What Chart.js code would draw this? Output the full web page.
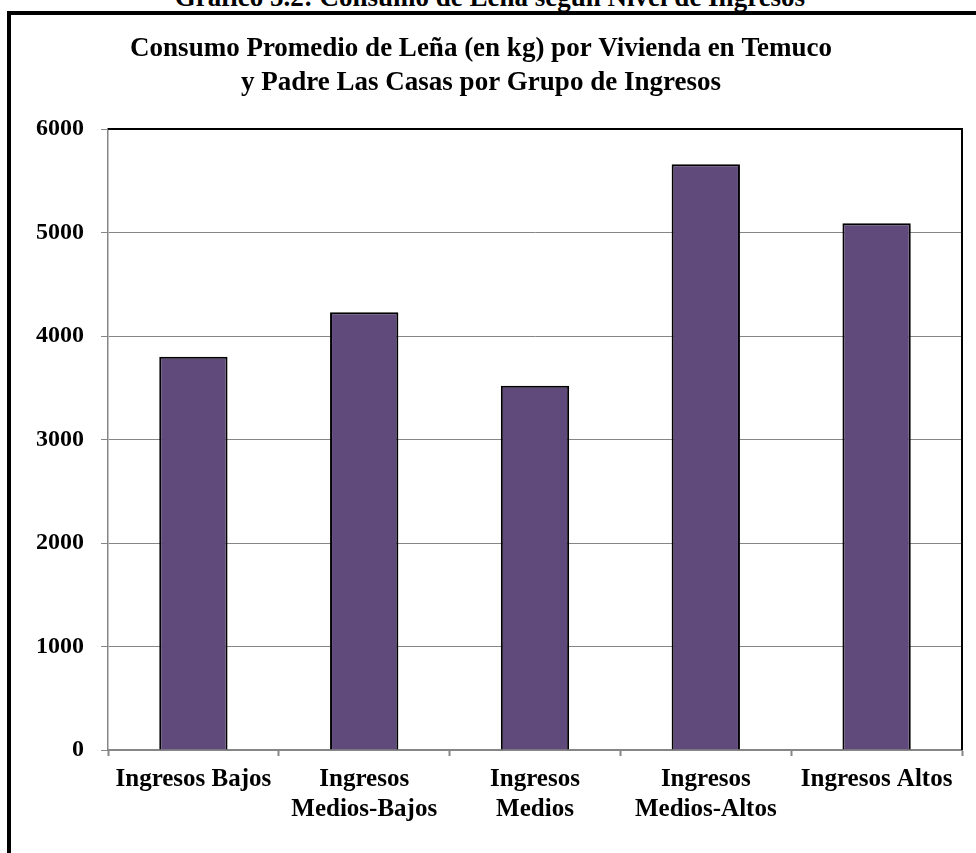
<!DOCTYPE html>
<html>
<head>
<meta charset="utf-8">
<script src="https://cdn.jsdelivr.net/npm/chart.js@4/dist/chart.umd.min.js"></script>
<style>
  body { margin: 0; background: #fff; width: 976px; height: 853px; overflow: hidden; position: relative; }
  #heading { position: absolute; left: 0; top: -16px; width: 980px; text-align: center;
             font: bold 27px "Liberation Serif", serif; line-height: 27px; color: #000; }
  #frame { position: absolute; left: 7px; top: 11px; width: 1000px; height: 900px;
           border-left: 4px solid #000; border-top: 4px solid #000; }
  #wrap { position: absolute; left: 0; top: 0; width: 976px; height: 853px; }
</style>
</head>
<body>
<div id="heading">Gráfico 5.2: Consumo de Leña según Nivel de Ingresos</div>
<div id="frame"></div>
<div id="wrap"><canvas id="chart"></canvas></div>
<script>
const grupos = [
    "Ingresos Bajos",
    ["Ingresos", "Medios-Bajos"],
    ["Ingresos", "Medios"],
    ["Ingresos", "Medios-Altos"],
    "Ingresos Altos"
];
const consumoKg = [3800, 4230, 3520, 5660, 5090];
const yTicks = [0, 1000, 2000, 3000, 4000, 5000, 6000];

const titulo = ["Consumo Promedio de Leña (en kg) por Vivienda en Temuco",
                "y Padre Las Casas por Grupo de Ingresos"];

const serif = "'Liberation Serif', 'Times New Roman', serif";
const gris = "#868686";

// black top and right edges of the plot area
const bordePlot = {
    id: "bordePlot",
    afterDraw(chart) {
        const { ctx, chartArea: a } = chart;
        ctx.save();
        ctx.strokeStyle = "#000";
        ctx.lineWidth = 2;
        ctx.beginPath();
        ctx.moveTo(a.left, a.top);
        ctx.lineTo(a.right, a.top);
        ctx.lineTo(a.right, a.bottom);
        ctx.stroke();
        ctx.restore();
    }
};

Chart.defaults.font.family = serif;
Chart.defaults.color = "#000";

new Chart(document.getElementById("chart"), {
    type: "bar",
    data: {
        labels: grupos,
        datasets: [{
            data: consumoKg,
            backgroundColor: "#604A7B",
            borderColor: "#000",
            borderWidth: 2,
            barPercentage: 0.4,
            categoryPercentage: 1
        }]
    },
    options: {
        responsive: true,
        maintainAspectRatio: false,
        animation: false,
        layout: { padding: { left: 0, right: 14, top: 0, bottom: 0 } },
        plugins: {
            legend: { display: false },
            tooltip: { enabled: false },
            title: {
                display: true,
                text: titulo,
                font: { size: 27, weight: "bold", family: serif, lineHeight: 34 / 27 },
                color: "#000",
                padding: { top: 32, bottom: 29 }
            }
        },
        scales: {
            x: {
                grid: { offset: true, drawOnChartArea: false, tickLength: 6, tickColor: gris, tickWidth: 2 },
                border: { color: gris, width: 2 },
                ticks: { font: { size: 25, weight: "bold", family: serif, lineHeight: 30 / 25 }, padding: 9, maxRotation: 0, autoSkip: false },
                afterFit(scale) { scale.height = 103; }
            },
            y: {
                min: 0,
                max: 6000,
                afterBuildTicks(scale) { scale.ticks = yTicks.map(v => ({ value: v })); },
                grid: { color: gris, lineWidth: 1, tickLength: 7, tickColor: gris },
                border: { color: gris, width: 1.5 },
                ticks: {
                    font: { size: 24, weight: "bold", family: serif },
                    padding: 17,
                    callback: v => String(v)
                },
                afterFit(scale) { scale.width = 108; }
            }
        }
    },
    plugins: [bordePlot]
});
</script>
</body>
</html>
